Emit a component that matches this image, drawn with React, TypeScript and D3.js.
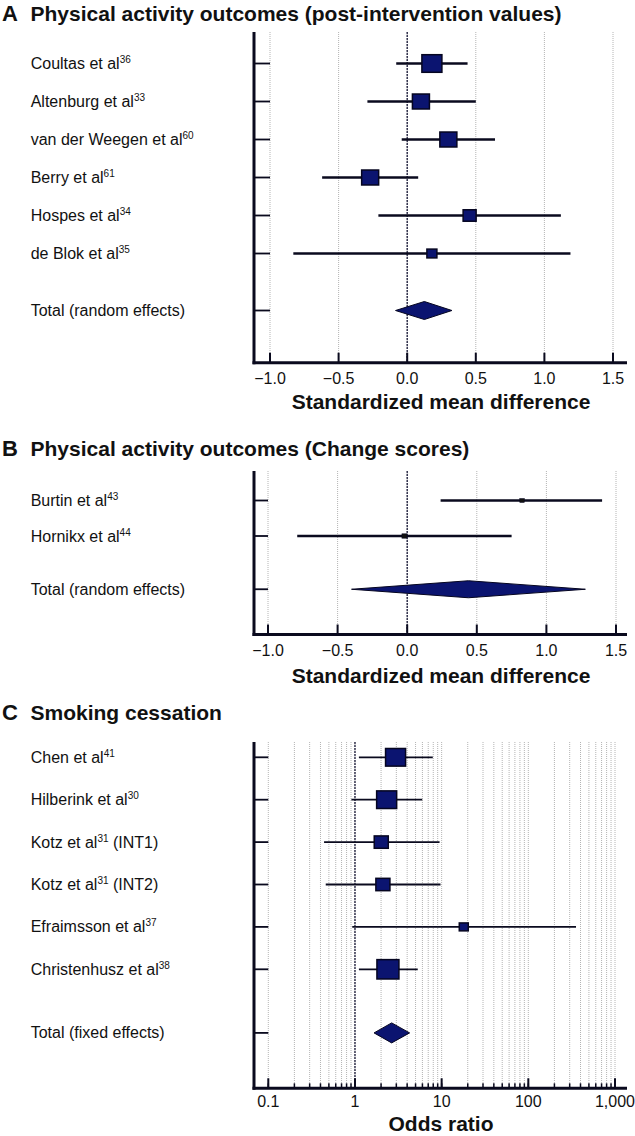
import React from 'react';
import * as d3 from 'd3';

// ---- Panel A: physical activity, post-intervention values (SMD) ----
const aStudies = ['Coultas et al', 'Altenburg et al', 'van der Weegen et al', 'Berry et al', 'Hospes et al', 'de Blok et al'];
const aRefs = ['36', '33', '60', '61', '34', '35'];
const aEst = [0.18, 0.1, 0.3, -0.27, 0.455, 0.18];
const aLow = [-0.08, -0.29, -0.04, -0.62, -0.21, -0.83];
const aHigh = [0.44, 0.5, 0.64, 0.08, 1.12, 1.19];
const aWeight = [26.0, 18.8, 18.8, 18.8, 11.0, 6.5];
const aPooled = [-0.085, 0.125, 0.326]; // low, est, high

// ---- Panel B: physical activity, change scores (SMD) ----
const bStudies = ['Burtin et al', 'Hornikx et al'];
const bRefs = ['43', '44'];
const bEst = [0.825, -0.02];
const bLow = [0.24, -0.79];
const bHigh = [1.4, 0.75];
const bWeight = [45, 55];
const bPooled = [-0.4, 0.44, 1.28];

// ---- Panel C: smoking cessation (odds ratio) ----
const cStudies = ['Chen et al', 'Hilberink et al', 'Kotz et al', 'Kotz et al', 'Efraimsson et al', 'Christenhusz et al'];
const cRefs = ['41', '30', '31', '31', '37', '38'];
const cSuffix = ['', '', ' (INT1)', ' (INT2)', '', ''];
const cEst = [2.94, 2.32, 2.01, 2.1, 18, 2.4];
const cLow = [1.11, 0.91, 0.44, 0.46, 0.93, 1.11];
const cHigh = [7.9, 5.97, 9.46, 9.7, 355, 5.3];
const cWeight = [22.8, 22.8, 11.2, 11.2, 4.6, 27.5];
const cPooled = [1.66, 2.65, 4.27];

const smdTicks = [-1.0, -0.5, 0, 0.5, 1.0, 1.5];
const smdTickLabels = ['\u22121.0', '\u22120.5', '0.0', '0.5', '1.0', '1.5'];
const orTicks = [0.1, 1, 10, 100, 1000];
const orTickLabels = ['0.1', '1', '10', '100', '1,000'];

const FONT = '"Liberation Sans", Arial, Helvetica, sans-serif';
const NAVY = '#0b1470';
const INK = '#0a0a1e';
const axisX = 254;
const axisRight = 627;

function Panel(props: any) {
  const {
    letter, heading, studies, refs, suffix, est, low, high, weight, pooled, pooledLabel,
    x, ticks, tickLabels, minor, refValue, axisTitle, lay,
  } = props;

  const y = d3.scaleLinear().domain([0, 1]).range([lay.row0, lay.row0 + lay.step]);
  const side = d3.scaleSqrt().domain([0, d3.max(weight) as number]).range([0, lay.maxSide]);
  const totalRow = studies.length + 0.5;
  const leftEnd = x(ticks[0]);
  const grid = minor ? minor : ticks;

  const diamond = d3.line<[number, number]>()([
    [x(pooled[0]), y(totalRow)],
    [x(pooled[1]), y(totalRow) - lay.dia / 2],
    [x(pooled[2]), y(totalRow)],
    [x(pooled[1]), y(totalRow) + lay.dia / 2],
  ]) + 'Z';

  return (
    <g>
      <text x={2} y={lay.headY} fontFamily={FONT} fontWeight="bold" fontSize={22} fill="#111">{letter}</text>
      <text x={30.5} y={lay.headY} fontFamily={FONT} fontWeight="bold" fontSize={21} fill="#111">{heading}</text>

      {/* grid */}
      {grid.map((g: number, i: number) => (
        <line key={'g' + i} x1={x(g)} x2={x(g)} y1={lay.top} y2={lay.bottom}
          stroke="#b4b4b4" strokeWidth={1} strokeDasharray="1,1" />
      ))}
      <line x1={x(refValue)} x2={x(refValue)} y1={lay.top} y2={lay.bottom}
        stroke="#1c1c3a" strokeWidth={1.3} strokeDasharray="2,1" />

      {/* row labels and left ticks */}
      {studies.map((s: string, i: number) => (
        <g key={'r' + i}>
          <text x={30.7} y={y(i) + 5.5} fontFamily={FONT} fontSize={16} fill="#111">
            {s}
            <tspan fontSize={10} dy={-6}>{refs[i]}</tspan>
            {suffix && suffix[i] ? <tspan dy={6}>{suffix[i]}</tspan> : null}
          </text>
          <line x1={axisX} x2={leftEnd} y1={y(i)} y2={y(i)} stroke={INK} strokeWidth={1.8} />
        </g>
      ))}
      <text x={30.7} y={y(totalRow) + 5.5} fontFamily={FONT} fontSize={16} fill="#111">{pooledLabel}</text>
      <line x1={axisX} x2={leftEnd} y1={y(totalRow)} y2={y(totalRow)} stroke={INK} strokeWidth={1.8} />

      {/* confidence intervals and squares */}
      {studies.map((_: string, i: number) => {
        const w = side(weight[i]);
        const h = w * 0.88;
        return (
          <g key={'m' + i}>
            <line x1={x(low[i])} x2={x(high[i])} y1={y(i)} y2={y(i)} stroke={INK} strokeWidth={lay.ciWidth} />
            <rect x={x(est[i]) - w / 2} y={y(i) - h / 2} width={w} height={h}
              fill={lay.maxSide < 8 ? '#111' : NAVY} stroke="#050520" strokeWidth={lay.maxSide < 8 ? 0.5 : 1.5} />
          </g>
        );
      })}
      <path d={diamond} fill={NAVY} stroke="#050520" strokeWidth={1} />

      {/* axes */}
      <line x1={axisX} x2={axisX} y1={lay.top} y2={lay.bottom + 1.5} stroke={INK} strokeWidth={3} />
      <line x1={axisX - 1.5} x2={axisRight} y1={lay.bottom} y2={lay.bottom} stroke={INK} strokeWidth={3} />
      {minor && minor.map((m: number, i: number) => (
        <line key={'mt' + i} x1={x(m)} x2={x(m)} y1={lay.bottom} y2={lay.bottom - 5} stroke={INK} strokeWidth={1.5} />
      ))}
      {ticks.map((t: number, i: number) => (
        <g key={'t' + i}>
          <line x1={x(t)} x2={x(t)} y1={lay.bottom} y2={lay.bottom - 10} stroke={INK} strokeWidth={2} />
          <text x={x(t)} y={lay.bottom + lay.tickGap} textAnchor="middle" fontFamily={FONT} fontSize={16} fill="#111">{tickLabels[i]}</text>
        </g>
      ))}
      <text x={441} y={lay.titleY} textAnchor="middle" fontFamily={FONT} fontWeight="bold" fontSize={21} fill="#111">{axisTitle}</text>
    </g>
  );
}

export default function App() {
  const xA = d3.scaleLinear().domain([-1, 1.5]).range([270, 613]);
  const xB = d3.scaleLinear().domain([-1, 1.5]).range([268, 616]);
  const xC = d3.scaleLog().domain([0.1, 1000]).range([268.3, 615]);
  const cMinor: number[] = [];
  [0.1, 1, 10, 100].forEach((d) => {
    for (let k = 1; k <= 10; k++) cMinor.push(+(d * k).toPrecision(3));
  });
  const cGrid = Array.from(new Set(cMinor));

  return (
    <svg width={635} height={1136} viewBox="0 0 635 1136"
      style={{ position: 'absolute', left: 0, top: 0, background: '#fff' }}>
      <rect width={635} height={1136} fill="#fff" />
      <Panel letter="A" heading="Physical activity outcomes (post-intervention values)"
        studies={aStudies} refs={aRefs} est={aEst} low={aLow} high={aHigh} weight={aWeight}
        pooled={aPooled} pooledLabel="Total (random effects)" x={xA} ticks={smdTicks}
        tickLabels={smdTickLabels} refValue={0} axisTitle="Standardized mean difference"
        lay={{ headY: 21, top: 32, row0: 63.5, step: 38, bottom: 362.7, titleY: 409, tickGap: 21, maxSide: 20, dia: 18, ciWidth: 2.3 }} />
      <Panel letter="B" heading="Physical activity outcomes (Change scores)"
        studies={bStudies} refs={bRefs} est={bEst} low={bLow} high={bHigh} weight={bWeight}
        pooled={bPooled} pooledLabel="Total (random effects)" x={xB} ticks={smdTicks}
        tickLabels={smdTickLabels} refValue={0} axisTitle="Standardized mean difference"
        lay={{ headY: 456, top: 471, row0: 500.5, step: 35.5, bottom: 634.5, titleY: 683, tickGap: 21, maxSide: 5, dia: 17, ciWidth: 2.5 }} />
      <Panel letter="C" heading="Smoking cessation"
        studies={cStudies} refs={cRefs} suffix={cSuffix} est={cEst} low={cLow} high={cHigh} weight={cWeight}
        pooled={cPooled} pooledLabel="Total (fixed effects)" x={xC} ticks={orTicks} minor={cGrid}
        tickLabels={orTickLabels} refValue={1} axisTitle="Odds ratio"
        lay={{ headY: 720, top: 742, row0: 757.3, step: 42.4, bottom: 1088.3, titleY: 1131, tickGap: 19, maxSide: 22, dia: 20, ciWidth: 1.8 }} />
    </svg>
  );
}
